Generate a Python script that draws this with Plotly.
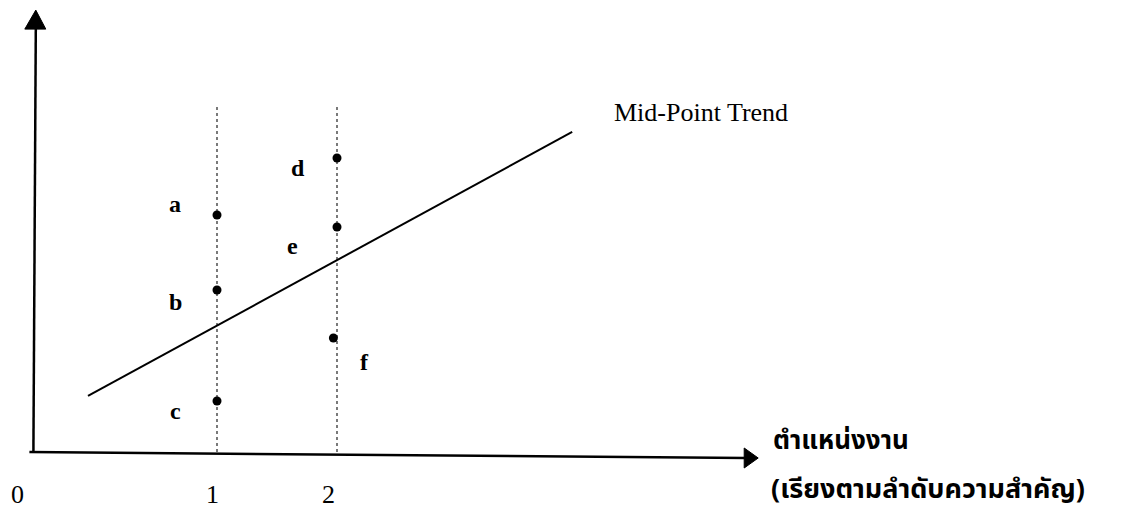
import plotly.graph_objects as go

# ---- data ----
job_positions = [1, 2]                      # job rank positions on the x axis
tick_labels = ["0", "1", "2"]
point_names = ["a", "b", "c", "d", "e", "f"]
point_x = [1, 1, 1, 2, 2, 1.97]
point_y = [7.9, 5.4, 1.7, 9.8, 7.5, 3.8]      # pay level (arbitrary units)
trend_x = [-0.075, 3.96]
trend_y = [1.87, 10.67]
guide_top = 11.5
trend_label = "Mid-Point Trend"
x_title_1 = "ตำแหน่งงาน"
x_title_2 = "(เรียงตามลำดับความสำคัญ)"

# ---- axis geometry (data units) ----
X_RANGE = [-0.8083, 8.55]
Y_RANGE = [-1.933, 15.067]
origin = (-0.53, 0.0)
x_end = (5.51, -0.2)
y_end = (-0.51, 14.73)

fig = go.Figure()

for j in job_positions:
    fig.add_trace(go.Scatter(x=[j, j], y=[0, guide_top], mode="lines",
                             line=dict(color="#333", width=1.3, dash="dot"),
                             hoverinfo="skip"))

fig.add_trace(go.Scatter(x=trend_x, y=trend_y, mode="lines",
                         line=dict(color="black", width=2), hoverinfo="skip"))

fig.add_trace(go.Scatter(x=point_x, y=point_y, mode="markers",
                         marker=dict(color="black", size=9, symbol="circle"),
                         text=point_names, hoverinfo="text"))

serif = "Liberation Serif, Times New Roman, serif"
label_shift = {"a": (-42, 11), "b": (-42, -12), "c": (-42, -10),
               "d": (-39, -10), "e": (-45, -19), "f": (31, -24)}
ann = []
for n, x, y in zip(point_names, point_x, point_y):
    dx, dy = label_shift[n]
    ann.append(dict(x=x, y=y, text="<b>" + n + "</b>", showarrow=False, xshift=dx, yshift=dy,
                    font=dict(family=serif, size=24, color="black")))

ann.append(dict(x=trend_x[-1], y=trend_y[-1], text=trend_label, showarrow=False,
                xanchor="left", xshift=40, yshift=19,
                font=dict(family=serif, size=26, color="black")))

# tick labels
tick_pos = [origin[0]] + job_positions
tick_shift = [-16, -5, -9]
for t, x, dx in zip(tick_labels, tick_pos, tick_shift):
    ann.append(dict(x=x, y=0, text=t, showarrow=False, xshift=dx, yshift=-42,
                    font=dict(family=serif, size=26, color="black")))

thai = "Noto Sans Thai, Loma, Garuda, Norasi, sans-serif"
ann.append(dict(x=x_end[0], y=x_end[1], text="<b>" + x_title_1 + "</b>", showarrow=False,
                xanchor="left", xshift=13, yshift=17,
                font=dict(family=thai, size=26, color="black")))
ann.append(dict(x=x_end[0], y=x_end[1], text="<b>" + x_title_2 + "</b>", showarrow=False,
                xanchor="left", xshift=11, yshift=-31,
                font=dict(family=thai, size=27, color="black")))

# axes drawn as arrows
xu = 1 / 120.0   # x units per pixel
yu = 1 / 30.0    # y units per pixel
shapes = [
    dict(type="line", x0=origin[0] - 4 * xu, y0=origin[1], x1=x_end[0] - 12 * xu,
         y1=x_end[1], line=dict(color="black", width=2.5)),
    dict(type="line", x0=origin[0], y0=origin[1], x1=y_end[0], y1=y_end[1] - 19 * yu,
         line=dict(color="black", width=2.5)),
    dict(type="path",
         path=f"M {x_end[0]},{x_end[1]} L {x_end[0]-14*xu},{x_end[1]+10*yu} "
              f"L {x_end[0]-14*xu},{x_end[1]-10*yu} Z",
         fillcolor="black", line=dict(color="black", width=1)),
    dict(type="path",
         path=f"M {y_end[0]},{y_end[1]} L {y_end[0]-11*xu},{y_end[1]-19*yu} "
              f"L {y_end[0]+10*xu},{y_end[1]-19*yu} Z",
         fillcolor="black", line=dict(color="black", width=1)),
]

fig.update_layout(
    width=1123, height=510, margin=dict(l=0, r=0, t=0, b=0),
    paper_bgcolor="white", plot_bgcolor="white", showlegend=False,
    xaxis=dict(range=X_RANGE, visible=False, fixedrange=True),
    yaxis=dict(range=Y_RANGE, visible=False, fixedrange=True),
    annotations=ann, shapes=shapes,
)

fig.write_html("out.html", config={"displayModeBar": False},
               post_script="document.body.style.margin='0';")
